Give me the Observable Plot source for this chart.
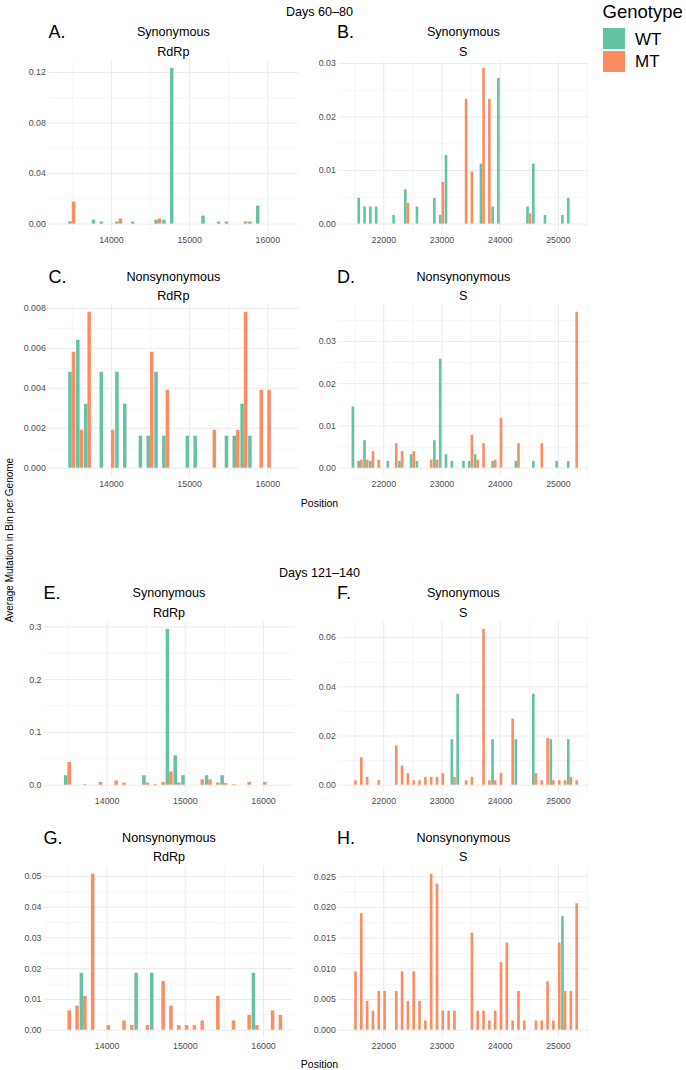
<!DOCTYPE html>
<html><head><meta charset="utf-8">
<script src="https://cdn.jsdelivr.net/npm/d3@7"></script>
<script src="https://cdn.jsdelivr.net/npm/@observablehq/plot@0.6"></script>
<style>
html,body{margin:0;padding:0;background:#fff;}
#root{position:relative;width:686px;height:1070px;overflow:hidden;font-family:"Liberation Sans",Arial,Helvetica,sans-serif;}
.t{position:absolute;white-space:nowrap;line-height:1;color:#000;}
</style></head>
<body><div id="root"></div>
<script>
// ---------- data ----------
const genotypes = ["WT", "MT"];
const genotypeColors = ["#66c2a5", "#fc8d62"];

const rdrpTicks = [14000, 15000, 16000];
const rdrpMinor = [13500, 14500, 15500];
const sTicks = [22000, 23000, 24000, 25000];
const sMinor = [21500, 22500, 23500, 24500, 25500];

// Panel A: Days 60-80, Synonymous, RdRp
const aWtBins = [13500,13800,13900,14100,14300,14600,14700,14800,15200,15400,15500,15800,15900];
const aWtVals = [0.0018,0.0032,0.0016,0.0016,0.0016,0.003,0.003,0.1234,0.0063,0.0016,0.0016,0.0016,0.0142];
const aMtBins = [13500,14100,14600,15700];
const aMtVals = [0.0174,0.004,0.004,0.0018];
const aYTicks = [0,0.04,0.08,0.12];
const aYMinor = [0.02,0.06,0.10];

// Panel B: Days 60-80, Synonymous, S
const bWtBins = [21600,21700,21800,21900,22200,22400,22600,22900,23000,23100,23700,23900,24000,24500,24600,24800,25100,25200];
const bWtVals = [0.0048,0.0032,0.0032,0.0032,0.0016,0.0064,0.0032,0.0048,0.0016,0.0128,0.0112,0.0032,0.0272,0.0032,0.0112,0.0016,0.0016,0.0048];
const bMtBins = [22400,23000,23400,23500,23700,23800,24500];
const bMtVals = [0.0039,0.0078,0.0233,0.0097,0.0291,0.0233,0.0019];
const bYTicks = [0,0.01,0.02,0.03];
const bYMinor = [0.005,0.015,0.025];

// Panel C: Days 60-80, Nonsynonymous, RdRp
const cWtBins = [13500,13600,13700,13900,14100,14200,14400,14500,14600,14700,15000,15100,15500,15600,15700,15800];
const cWtVals = [0.0048,0.0064,0.0032,0.0048,0.0048,0.0032,0.0016,0.0016,0.0048,0.0016,0.0016,0.0016,0.0016,0.0016,0.0032,0.0016];
const cMtBins = [13500,13600,13700,14000,14500,14700,15300,15600,15700,15900,16000];
const cMtVals = [0.0058,0.0019,0.0078,0.0019,0.0058,0.0039,0.0019,0.0019,0.0078,0.0039,0.0039];
const cYTicks = [0,0.002,0.004,0.006,0.008];
const cYMinor = [0.001,0.003,0.005,0.007];

// Panel D: Days 60-80, Nonsynonymous, S
const dWtBins = [21500,21600,21700,21800,22100,22300,22500,22600,22900,23000,23100,23200,23400,23500,23600,23900,24300,24600,25000,25200];
const dWtVals = [0.0145,0.0016,0.0065,0.0016,0.0016,0.0016,0.0032,0.0016,0.0065,0.0258,0.0032,0.0016,0.0016,0.0016,0.0032,0.0016,0.0016,0.0016,0.0016,0.0016];
const dMtBins = [21600,21700,21800,21900,22200,22300,22500,22800,22900,23500,23600,23700,23900,24000,24300,24700,25300];
const dMtVals = [0.0019,0.0019,0.0039,0.0019,0.0058,0.0039,0.0039,0.0019,0.0019,0.0078,0.0019,0.0058,0.0019,0.0118,0.0058,0.0058,0.0369];
const dYTicks = [0,0.01,0.02,0.03];
const dYMinor = [0.005,0.015,0.025,0.035];

// Panel E: Days 121-140, Synonymous, RdRp
const eWtBins = [13500,14500,14800,14900,15000,15300,15500];
const eWtVals = [0.018,0.018,0.2955,0.0555,0.018,0.018,0.018];
const eMtBins = [13500,13700,13900,14100,14200,14500,14600,14700,14800,14900,15200,15300,15400,15500,15600,15800,16000];
const eMtVals = [0.043,0.0012,0.005,0.008,0.004,0.004,0.0012,0.005,0.025,0.004,0.01,0.01,0.004,0.003,0.0012,0.005,0.005];
const eYTicks = [0,0.1,0.2,0.3];
const eYMinor = [0.05,0.15,0.25];

// Panel F: Days 121-140, Synonymous, S
const fWtBins = [23200,23300,23900,24300,24600,24900,25200];
const fWtVals = [0.0185,0.037,0.0185,0.0185,0.037,0.0185,0.0185];
const fMtBins = [21500,21600,21700,21900,22200,22300,22400,22500,22600,22700,22800,22900,23000,23200,23400,23500,23700,23800,23900,24000,24200,24600,24700,24800,24900,25000,25100,25200,25300];
const fMtVals = [0.0018,0.0111,0.0032,0.0018,0.016,0.0078,0.0047,0.0018,0.0018,0.0032,0.0032,0.0032,0.0047,0.0032,0.0018,0.0032,0.0634,0.0018,0.0018,0.0047,0.0269,0.0047,0.0018,0.019,0.0018,0.0018,0.0018,0.0032,0.0018];
const fYTicks = [0,0.02,0.04,0.06];
const fYMinor = [0.01,0.03,0.05];

// Panel G: Days 121-140, Nonsynonymous, RdRp
const gWtBins = [13700,14400,14600,15900];
const gWtVals = [0.0185,0.0185,0.0185,0.0185];
const gMtBins = [13500,13600,13700,13800,14000,14200,14300,14500,14700,14800,14900,15000,15100,15200,15400,15600,15800,15900,16100,16200];
const gMtVals = [0.0063,0.0078,0.011,0.0507,0.0015,0.003,0.0015,0.0015,0.0158,0.0078,0.0015,0.0015,0.0015,0.003,0.011,0.003,0.0048,0.0015,0.0063,0.0048];
const gYTicks = [0,0.01,0.02,0.03,0.04,0.05];
const gYMinor = [0.005,0.015,0.025,0.035,0.045];

// Panel H: Days 121-140, Nonsynonymous, S
const hWtBins = [25100];
const hWtVals = [0.0185];
const hMtBins = [21500,21600,21700,21800,21900,22000,22200,22300,22400,22500,22600,22700,22800,22900,23000,23100,23200,23500,23600,23700,23800,23900,24000,24100,24200,24300,24400,24600,24700,24800,24900,25000,25100,25200,25300];
const hMtVals = [0.0095,0.019,0.0047,0.0031,0.0063,0.0063,0.0063,0.0095,0.0047,0.0095,0.0047,0.0015,0.0254,0.0238,0.0031,0.0031,0.0031,0.0158,0.0031,0.0031,0.0015,0.0031,0.011,0.0142,0.0015,0.0063,0.0015,0.0015,0.0015,0.0079,0.0015,0.0142,0.0063,0.0063,0.0206];
const hYTicks = [0,0.005,0.01,0.015,0.02,0.025];
const hYMinor = [0.0025,0.0075,0.0125,0.0175,0.0225];

// ---------- layout ----------
const root = document.getElementById("root");
const FONT = '"Liberation Sans",Arial,Helvetica,sans-serif';
const BIN_HALF = 45; // dodged bar width in position units

function addText(str, x, y, size, opts = {}) {
  const d = document.createElement("div");
  d.className = "t";
  d.textContent = str;
  d.style.fontSize = size + "px";
  d.style.left = x + "px";
  d.style.top = y + "px";
  const tx = opts.anchor === "start" ? "0" : "-50%";
  d.style.transform = `translate(${tx},-50%)` + (opts.rotate ? ` rotate(${opts.rotate}deg)` : "");
  if (opts.color) d.style.color = opts.color;
  root.appendChild(d);
  return d;
}

function panel(cfg) {
  const rows = [
    ...cfg.wtBins.map((b, i) => ({bin: b, value: cfg.wtVals[i], g: "WT"})),
    ...cfg.mtBins.map((b, i) => ({bin: b, value: cfg.mtVals[i], g: "MT"}))
  ];
  const maxV = d3.max(rows, d => d.value);
  const svgLeft = cfg.col === 0 ? 0 : 300;
  const W = 300, mt = 10, mb = 24;
  const areaH = cfg.bottom - cfg.top;
  const plot = Plot.plot({
    width: W,
    height: areaH + mt + mb,
    marginLeft: cfg.left - svgLeft,
    marginRight: svgLeft + W - cfg.right,
    marginTop: mt,
    marginBottom: mb,
    x: {domain: cfg.xDomain, ticks: cfg.xTicks, tickFormat: d3.format("d"), tickSize: 0, tickPadding: 5, label: null},
    y: {domain: [-0.05 * maxV, 1.05 * maxV], ticks: cfg.yTicks, tickFormat: d3.format(`.${cfg.dec}f`), tickSize: 0, tickPadding: 3, label: null},
    color: {domain: genotypes, range: genotypeColors},
    style: {fontFamily: FONT, fontSize: "8.8px", color: "#4d4d4d", background: "transparent", overflow: "visible"},
    marks: [
      Plot.ruleX(cfg.xMinor, {stroke: "#f2f2f2", strokeWidth: 0.8}),
      Plot.ruleY(cfg.yMinor, {stroke: "#f2f2f2", strokeWidth: 0.8}),
      Plot.ruleX(cfg.xTicks, {stroke: "#ebebeb", strokeWidth: 1}),
      Plot.ruleY(cfg.yTicks, {stroke: "#ebebeb", strokeWidth: 1}),
      Plot.rect(rows, {
        x1: d => d.g === "WT" ? d.bin - BIN_HALF : d.bin,
        x2: d => d.g === "WT" ? d.bin : d.bin + BIN_HALF,
        y1: d => 0,
        y2: "value",
        fill: "g"
      })
    ]
  });
  const wrap = document.createElement("div");
  wrap.style.position = "absolute";
  wrap.style.left = svgLeft + "px";
  wrap.style.top = (cfg.top - mt) + "px";
  wrap.appendChild(plot);
  root.appendChild(wrap);

  const cx = (cfg.left + cfg.right) / 2;
  addText(cfg.tag, cfg.tagX, cfg.titleY, 18, {anchor: "start"});
  addText(cfg.type, cx, cfg.titleY, 12.6);
  addText(cfg.gene, cx, cfg.titleY + 19.5, 12.6);
}

const rdrpTop = [13200, 16396];
const sDom = [21227, 25522];
const rows = [
  {top: 59.7, bottom: 231.1, titleY: 32},
  {top: 304, bottom: 475.5, titleY: 276.5},
  {top: 621.3, bottom: 792.8, titleY: 593.3},
  {top: 865.8, bottom: 1037.3, titleY: 837.5}
];
const leftCols = [{left: 48.3, right: 298.3, tagX: 48.5}, {left: 44, right: 294, tagX: 43.5}];
const rightCol = {left: 338.3, right: 588.3, tagX: 337};

const panels = [
  {tag: "A.", type: "Synonymous", gene: "RdRp", r: 0, col: 0, wtBins: aWtBins, wtVals: aWtVals, mtBins: aMtBins, mtVals: aMtVals, yTicks: aYTicks, yMinor: aYMinor, dec: 2},
  {tag: "B.", type: "Synonymous", gene: "S", r: 0, col: 1, wtBins: bWtBins, wtVals: bWtVals, mtBins: bMtBins, mtVals: bMtVals, yTicks: bYTicks, yMinor: bYMinor, dec: 2},
  {tag: "C.", type: "Nonsynonymous", gene: "RdRp", r: 1, col: 0, wtBins: cWtBins, wtVals: cWtVals, mtBins: cMtBins, mtVals: cMtVals, yTicks: cYTicks, yMinor: cYMinor, dec: 3},
  {tag: "D.", type: "Nonsynonymous", gene: "S", r: 1, col: 1, wtBins: dWtBins, wtVals: dWtVals, mtBins: dMtBins, mtVals: dMtVals, yTicks: dYTicks, yMinor: dYMinor, dec: 2},
  {tag: "E.", type: "Synonymous", gene: "RdRp", r: 2, col: 0, wtBins: eWtBins, wtVals: eWtVals, mtBins: eMtBins, mtVals: eMtVals, yTicks: eYTicks, yMinor: eYMinor, dec: 1},
  {tag: "F.", type: "Synonymous", gene: "S", r: 2, col: 1, wtBins: fWtBins, wtVals: fWtVals, mtBins: fMtBins, mtVals: fMtVals, yTicks: fYTicks, yMinor: fYMinor, dec: 2},
  {tag: "G.", type: "Nonsynonymous", gene: "RdRp", r: 3, col: 0, wtBins: gWtBins, wtVals: gWtVals, mtBins: gMtBins, mtVals: gMtVals, yTicks: gYTicks, yMinor: gYMinor, dec: 2},
  {tag: "H.", type: "Nonsynonymous", gene: "S", r: 3, col: 1, wtBins: hWtBins, wtVals: hWtVals, mtBins: hMtBins, mtVals: hMtVals, yTicks: hYTicks, yMinor: hYMinor, dec: 3}
];

for (const p of panels) {
  const rw = rows[p.r];
  const c = p.col === 0 ? leftCols[p.r < 2 ? 0 : 1] : rightCol;
  const isR = p.gene === "RdRp";
  panel(Object.assign({}, p, rw, {
    left: c.left, right: c.right, tagX: c.tagX,
    xDomain: isR ? rdrpTop : sDom,
    xTicks: isR ? rdrpTicks : sTicks,
    xMinor: isR ? rdrpMinor : sMinor
  }));
}

// titles and axis titles
addText("Days 60\u201380", 319.5, 12, 12.6);
addText("Days 121\u2013140", 319.5, 573, 12.6);
addText("Position", 319.5, 502.5, 10.5);
addText("Position", 319.5, 1064, 10.5);
addText("Average Mutation in Bin per Genome", 9.5, 540, 10, {rotate: -90});

// legend
addText("Genotype", 602.5, 12, 18.5, {anchor: "start"});
genotypes.forEach((g, i) => {
  const sw = document.createElement("div");
  sw.style.position = "absolute";
  sw.style.left = "602.7px";
  sw.style.top = (27.7 + i * 23) + "px";
  sw.style.width = "22px";
  sw.style.height = "21.3px";
  sw.style.background = genotypeColors[i];
  root.appendChild(sw);
  addText(g, 635, 38.5 + i * 22, 17, {anchor: "start"});
});
</script>
</body></html>
